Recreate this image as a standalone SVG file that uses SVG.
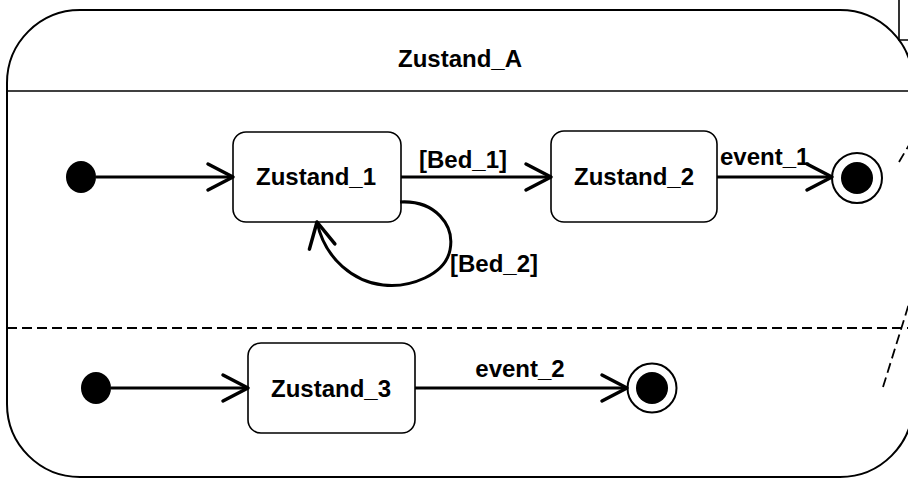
<svg xmlns="http://www.w3.org/2000/svg" width="908" height="478" viewBox="0 0 908 478">
<style>
.frame{fill:none;stroke:#000;stroke-width:2}
.state{fill:#fff;stroke:#000;stroke-width:1.6}
.lbl{font-family:"Liberation Sans",Arial,sans-serif;font-weight:bold;font-size:24px;fill:#000}
.conn{fill:none;stroke:#000;stroke-width:3}
.dash{fill:none;stroke:#000;stroke-width:1.8;stroke-dasharray:10 5}
</style>
<defs>
<marker id="arr" markerUnits="userSpaceOnUse" markerWidth="40" markerHeight="40" viewBox="-30 -20 40 40" refX="0" refY="0" orient="auto">
<path d="M-25,-13 L0,0 L-25,13" fill="none" stroke="#000" stroke-width="3.5" stroke-linecap="round" stroke-linejoin="round"/>
</marker>
</defs>
<g id="composite">
<rect class="frame" x="7" y="10" width="906" height="467" rx="73" ry="73"/>
<line x1="7" y1="91" x2="908" y2="91" stroke="#000" stroke-width="1.6"/>
<line class="dash" x1="7" y1="328" x2="908" y2="328"/>
<text class="lbl" x="460" y="67" text-anchor="middle">Zustand_A</text>
</g>
<g id="corner-box">
<polyline points="899,0 899,40 908,40" fill="none" stroke="#000" stroke-width="1.6"/>
</g>
<g id="right-dashes">
<line class="dash" x1="899" y1="162" x2="912" y2="140"/>
<line class="dash" x1="883" y1="387" x2="912" y2="294"/>
</g>
<g id="init1"><ellipse cx="81" cy="177" rx="15" ry="16" fill="#000"/></g>
<g id="init2"><ellipse cx="96" cy="388" rx="15" ry="16" fill="#000"/></g>
<g id="zustand1">
<rect class="state" x="233" y="132" width="168" height="90" rx="13" ry="13"/>
<text class="lbl" x="316" y="185" text-anchor="middle">Zustand_1</text>
</g>
<g id="zustand2">
<rect class="state" x="551" y="131" width="166" height="91" rx="13" ry="13"/>
<text class="lbl" x="634" y="185" text-anchor="middle">Zustand_2</text>
</g>
<g id="zustand3">
<rect class="state" x="248" y="343" width="167" height="90" rx="13" ry="13"/>
<text class="lbl" x="331" y="397" text-anchor="middle">Zustand_3</text>
</g>
<g id="final1">
<circle cx="857" cy="178" r="25" fill="#fff" stroke="#000" stroke-width="2"/>
<circle cx="857" cy="178" r="16" fill="#000"/>
</g>
<g id="final2">
<circle cx="652" cy="388" r="24.5" fill="#fff" stroke="#000" stroke-width="2"/>
<circle cx="652" cy="388" r="16" fill="#000"/>
</g>
<g id="connectors">
<line class="conn" x1="96" y1="177" x2="233" y2="177" marker-end="url(#arr)"/>
<line class="conn" x1="401" y1="177" x2="551" y2="177" marker-end="url(#arr)"/>
<line class="conn" x1="717" y1="177" x2="832" y2="177" marker-end="url(#arr)"/>
<path class="conn" d="M400,202 C435,200 455,225 450,250 C445,275 410,288 383,285 C355,282 325,260 317,222" marker-end="url(#arr)"/>
<line class="conn" x1="111" y1="388" x2="248" y2="388" marker-end="url(#arr)"/>
<line class="conn" x1="415" y1="388" x2="627" y2="388" marker-end="url(#arr)"/>
<text class="lbl" x="463" y="168" text-anchor="middle">[Bed_1]</text>
<text class="lbl" x="720" y="165">event_1</text>
<text class="lbl" x="450" y="272">[Bed_2]</text>
<text class="lbl" x="520" y="377" text-anchor="middle">event_2</text>
</g>
</svg>
